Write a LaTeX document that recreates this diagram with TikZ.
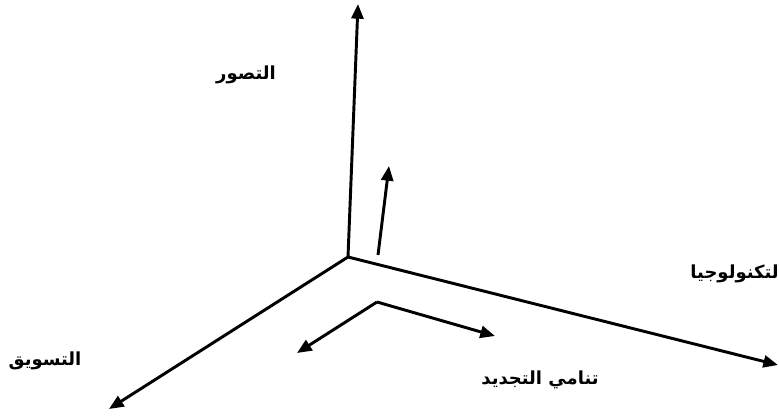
\documentclass[tikz,border=0pt]{standalone}
\usepackage{fontspec}
\newfontfamily\arabicfont[Script=Arabic]{DejaVu Sans}
\TeXXeTstate=1
\usetikzlibrary{arrows.meta}

\begin{document}
\begin{tikzpicture}[x=0.75pt,y=-0.75pt]
\useasboundingbox (0,0) rectangle (779,417);
\tikzset{axis/.style={black, line width=2.2pt, line join=round, -{Triangle[length=11pt,width=9pt]}},
  lbl/.style={font=\arabicfont\bfseries\fontsize{13.5}{15}\selectfont, inner sep=0pt}}
\coordinate (origin) at (348,257);
\coordinate (up) at (358,4);
\coordinate (right) at (778,365);
\coordinate (left) at (109,409);
\coordinate (small base) at (378,255);
\coordinate (small tip) at (389,166);
\coordinate (vee) at (377,302);
\coordinate (vee right) at (495,336);
\coordinate (vee left) at (297,353);
\draw[axis] (origin) -- (up);
\draw[axis] (origin) -- (right);
\draw[axis] (origin) -- (left);
\draw[axis] (small base) -- (small tip);
\draw[axis] (vee) -- (vee right);
\draw[axis] (vee) -- (vee left);
\node[lbl] (concept) at (246,75) {\beginR التصور\endR};
\node[lbl, anchor=east] (tech) at (779,274) {\beginR لتكنولوجيا\endR};
\node[lbl] (market) at (45,361) {\beginR التسويق\endR};
\node[lbl] (renew) at (540,380) {\beginR تنامي التجديد\endR};
\end{tikzpicture}
\end{document}
